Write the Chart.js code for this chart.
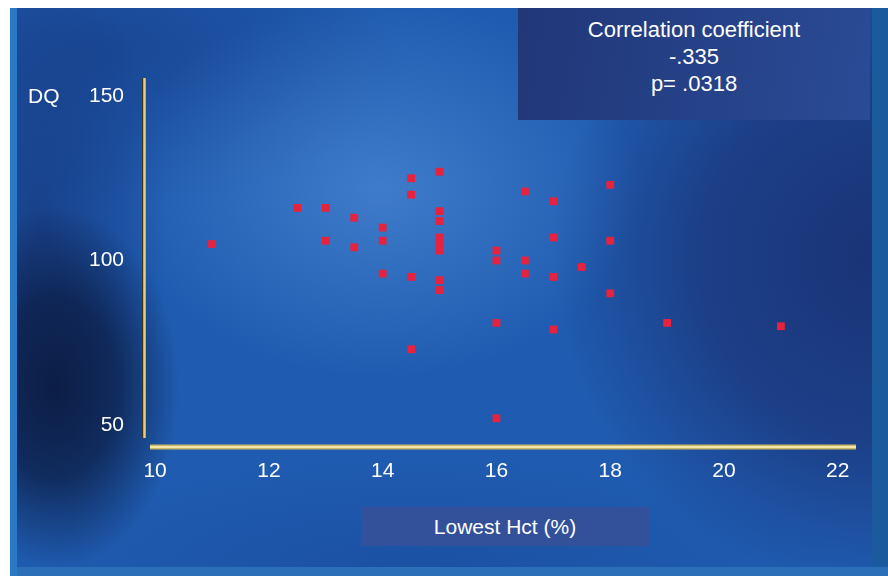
<!DOCTYPE html>
<html>
<head>
<meta charset="utf-8">
<script src="https://cdn.jsdelivr.net/npm/chart.js@4/dist/chart.umd.min.js"></script>
<style>
  html, body { margin: 0; padding: 0; background: #fff; }
  #wrap { position: relative; width: 888px; height: 576px; overflow: hidden; font-family: "Liberation Sans", Arial, sans-serif; }
  #panel {
    position: absolute; left: 10px; top: 8px; width: 878px; height: 568px;
    background:
      radial-gradient(ellipse 260px 190px at 370px 180px, rgba(95,155,225,0.5), rgba(95,155,225,0) 100%),
      radial-gradient(ellipse 125px 180px at 45px 380px, rgba(10,24,60,0.9) 0%, rgba(10,24,60,0.7) 50%, rgba(10,24,60,0) 100%),
      radial-gradient(ellipse 130px 260px at 30px 220px, rgba(20,45,110,0.6), rgba(20,45,110,0) 100%),
      radial-gradient(ellipse 330px 330px at 870px 250px, rgba(26,44,108,0.85) 0%, rgba(26,44,108,0.6) 55%, rgba(26,44,108,0) 100%),
      radial-gradient(ellipse 300px 160px at 100px 40px, rgba(22,58,130,0.6), rgba(22,58,130,0) 100%),
      radial-gradient(ellipse 420px 120px at 400px 560px, rgba(24,70,150,0.5), rgba(24,70,150,0) 100%),
      #1f5cb1;
    box-shadow: inset 7px 0 0 #2b78c4, inset 0 -9px 0 #2a6fb8, inset -16px 0 0 #1c5a9e;
  }
  #chart { position: absolute; left: 0; top: 0; }
  .txt { position: absolute; color: #fff; font-size: 21px; }
  #corr {
    position: absolute; left: 518px; top: 8px; width: 352px; height: 112px;
    background: linear-gradient(100deg, #213778, #2a4b96);
    color: #fff; font-size: 22px; line-height: 27px; text-align: center;
    box-sizing: border-box; padding-top: 8px;
  }
  #xtitle {
    position: absolute; left: 361px; top: 507px; width: 288px; height: 39px;
    background: #33519a; color: #fff; font-size: 21px; line-height: 39px; text-align: center;
  }
</style>
</head>
<body>
<div id="wrap">
  <div id="panel"></div>
  <canvas id="chart" width="888" height="576"></canvas>
  <div class="txt" style="left:28px; top:84px; line-height:24px;">DQ</div>
  <div id="corr">Correlation coefficient<br>-.335<br>p= .0318</div>
  <div id="xtitle">Lowest Hct (%)</div>
</div>
<script>
// Lowest haematocrit (%) and developmental quotient per child
const hct = [11, 12.5, 13, 13, 13.5, 13.5, 14, 14, 14, 14.5, 14.5, 14.5, 14.5,
             15, 15, 15, 15, 15, 15, 15, 15, 16, 16, 16, 16, 16.5, 16.5, 16.5,
             17, 17, 17, 17, 17.5, 18, 18, 18, 19, 21];
const dq = [105, 116, 116, 106, 113, 104, 110, 106, 96, 125, 120, 95, 73,
            127, 115, 112, 107, 105, 103, 94, 91, 103, 100, 81, 52, 121, 100, 96,
            118, 107, 95, 79, 98, 123, 106, 90, 81, 80];
const xTicks = [10, 12, 14, 16, 18, 20, 22];
const yTicks = [50, 100, 150];

const points = hct.map((x, i) => ({ x: x, y: dq[i] }));

// yellow axis rules, drawn slightly apart from each other
const axisLines = {
  id: 'axisLines',
  afterDraw(chart) {
    const ctx = chart.ctx;
    const a = chart.chartArea;
    ctx.save();
    ctx.lineCap = 'butt';
    // y axis
    ctx.strokeStyle = '#3a3420';
    ctx.lineWidth = 1;
    ctx.beginPath();
    ctx.moveTo(a.left - 3.5, a.top);
    ctx.lineTo(a.left - 3.5, a.bottom);
    ctx.stroke();
    ctx.strokeStyle = '#e4d07c';
    ctx.lineWidth = 2.5;
    ctx.beginPath();
    ctx.moveTo(a.left - 1.5, a.top);
    ctx.lineTo(a.left - 1.5, a.bottom);
    ctx.stroke();
    // x axis
    const y = a.bottom + 9;
    ctx.strokeStyle = '#c9b766';
    ctx.lineWidth = 5;
    ctx.beginPath();
    ctx.moveTo(a.left + 4, y);
    ctx.lineTo(a.right, y);
    ctx.stroke();
    ctx.strokeStyle = '#f2e6a8';
    ctx.lineWidth = 2;
    ctx.beginPath();
    ctx.moveTo(a.left + 4, y);
    ctx.lineTo(a.right, y);
    ctx.stroke();
    ctx.restore();
  }
};

new Chart(document.getElementById('chart'), {
  type: 'scatter',
  data: {
    datasets: [{
      data: points,
      backgroundColor: '#e6223f',
      borderWidth: 0,
      pointStyle: 'rect',
      pointRadius: 5.5,
      pointHoverRadius: 5.5
    }]
  },
  options: {
    responsive: false,
    animation: false,
    layout: { padding: { left: 86, right: 32, top: 78, bottom: 88 } },
    plugins: { legend: { display: false }, tooltip: { enabled: false } },
    scales: {
      x: {
        type: 'linear',
        min: 9.84,
        max: 22.32,
        afterBuildTicks: s => { s.ticks = xTicks.map(v => ({ value: v })); },
        afterFit: s => { s.height = 50; },
        grid: { display: false, drawTicks: false },
        border: { display: false },
        ticks: {
          color: '#ffffff',
          padding: 21,
          font: { family: 'Liberation Sans, Arial, sans-serif', size: 21 }
        }
      },
      y: {
        type: 'linear',
        min: 46,
        max: 155.5,
        afterBuildTicks: s => { s.ticks = yTicks.map(v => ({ value: v })); },
        afterFit: s => { s.width = 60; },
        grid: { display: false, drawTicks: false },
        border: { display: false },
        ticks: {
          color: '#ffffff',
          padding: 22,
          font: { family: 'Liberation Sans, Arial, sans-serif', size: 21 }
        }
      }
    }
  },
  plugins: [axisLines]
});
</script>
</body>
</html>
